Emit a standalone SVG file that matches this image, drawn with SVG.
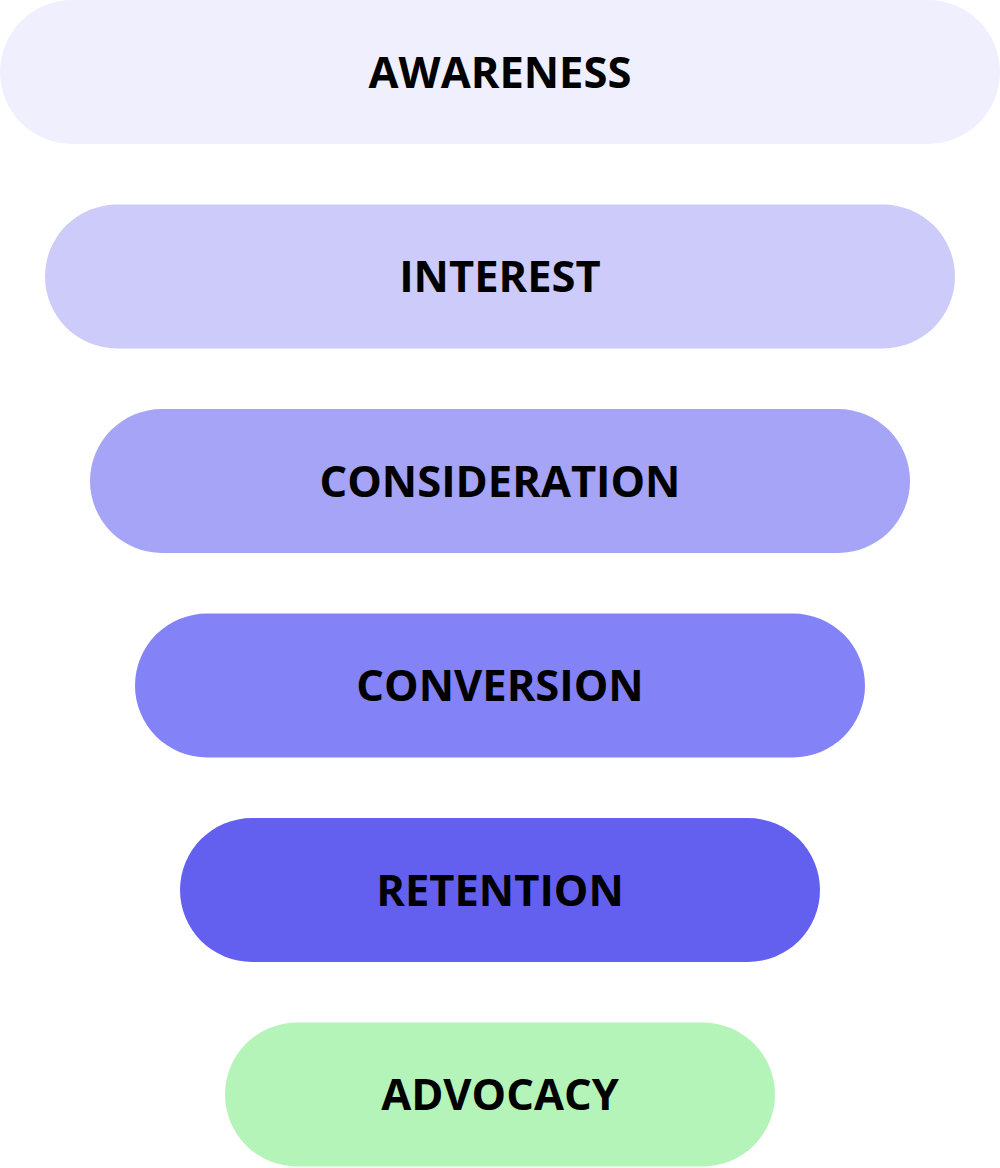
<svg xmlns="http://www.w3.org/2000/svg" width="1000" height="1168" viewBox="0 0 1000 1168">
<style>
.lbl{font-family:"Open Sans","Noto Sans","Liberation Sans",sans-serif;font-weight:700;font-size:43.5px;fill:#000;text-anchor:middle}
</style>
<rect width="1000" height="1168" fill="#ffffff"/>
<g id="awareness"><rect x="0" y="0" width="1000" height="144" rx="72" fill="#f0effe"/><text class="lbl" x="500" y="87.5">AWARENESS</text></g>
<g id="interest"><rect x="45" y="204.5" width="910" height="144" rx="72" fill="#cccbfa"/><text class="lbl" x="500" y="292">INTEREST</text></g>
<g id="consideration"><rect x="90" y="409" width="820" height="144" rx="72" fill="#a5a4f7"/><text class="lbl" x="500" y="496.5">CONSIDERATION</text></g>
<g id="conversion"><rect x="135" y="613.5" width="730" height="144" rx="72" fill="#8482f7"/><text class="lbl" x="500" y="701">CONVERSION</text></g>
<g id="retention"><rect x="180" y="818" width="640" height="144" rx="72" fill="#6360f0"/><text class="lbl" x="500" y="905.5">RETENTION</text></g>
<g id="advocacy"><rect x="225" y="1022.5" width="550" height="144" rx="72" fill="#b5f4b8"/><text class="lbl" x="500" y="1110">ADVOCACY</text></g>
<g id="connectors"></g>
</svg>
